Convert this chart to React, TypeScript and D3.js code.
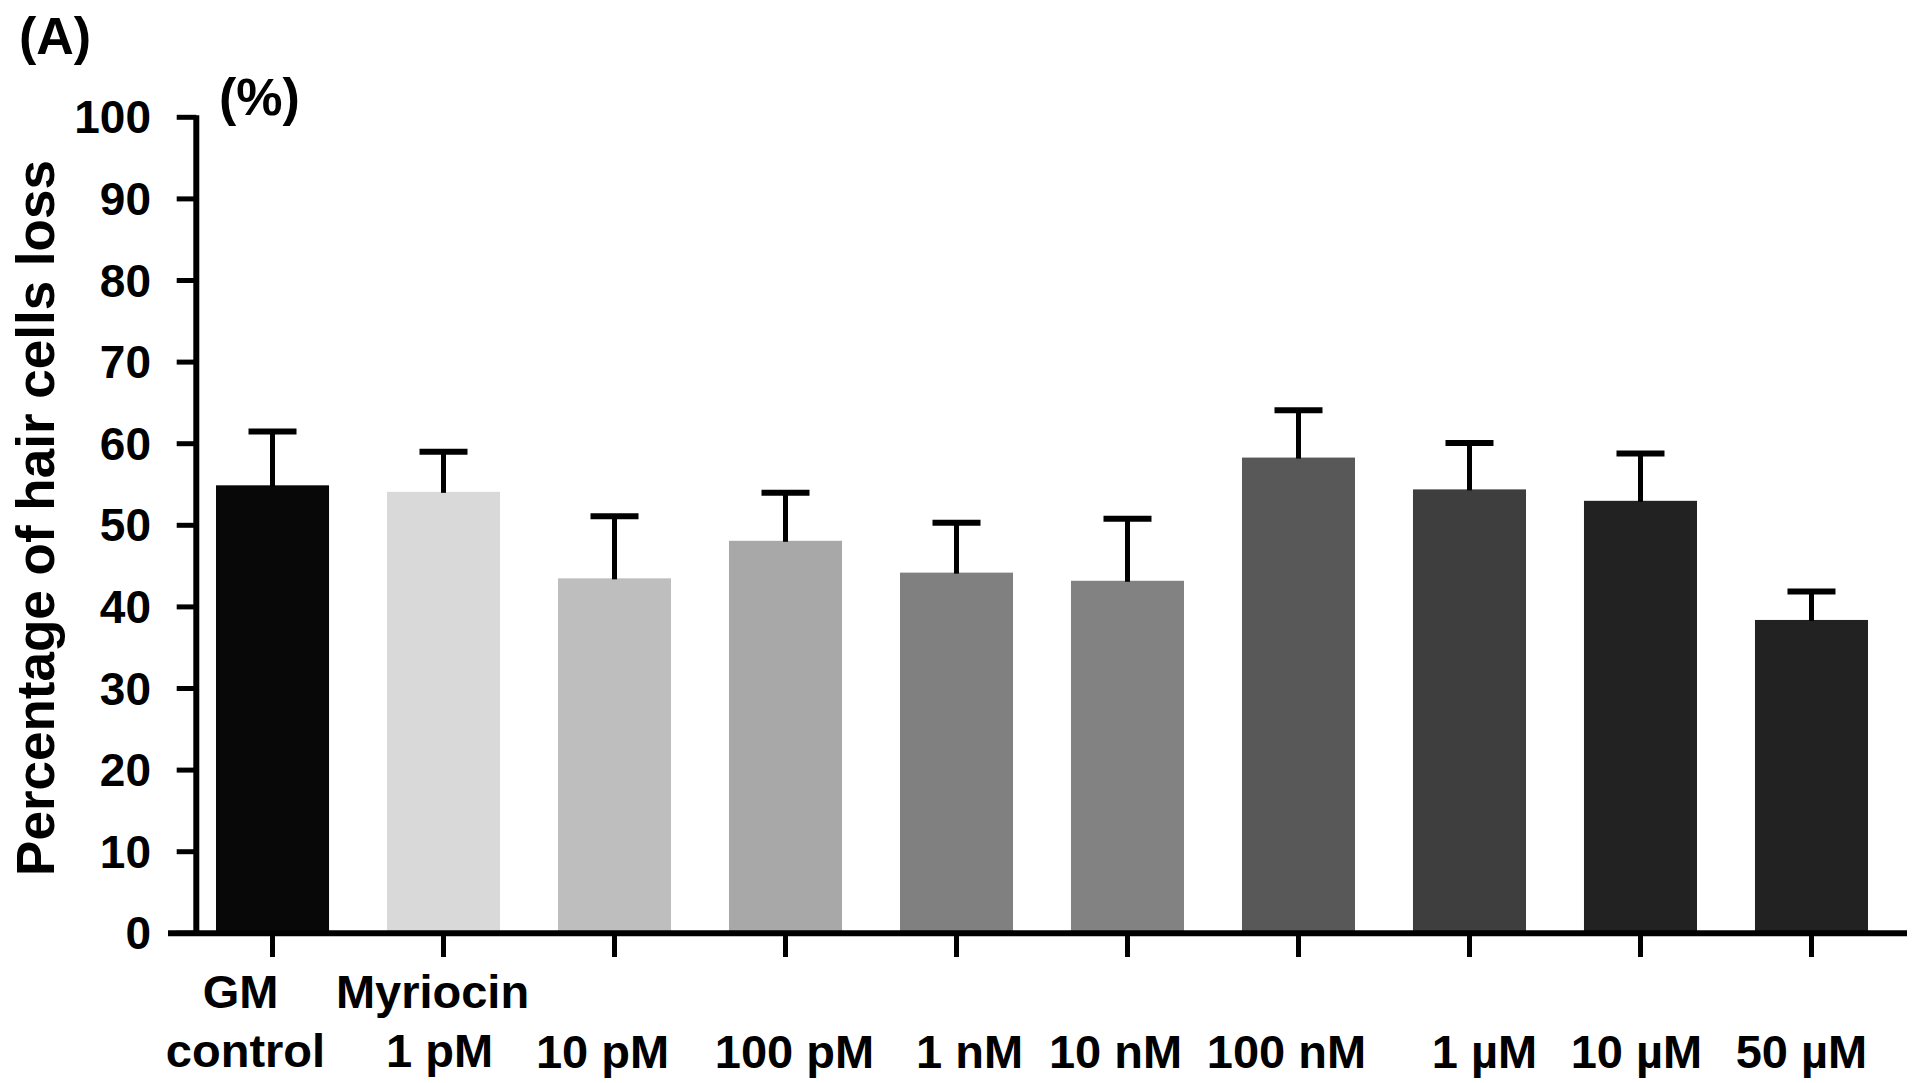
import React from "react";
import * as d3 from "d3";

// ---- data ----
const categories = ["GM control", "Myriocin 1 pM", "10 pM", "100 pM", "1 nM", "10 nM", "100 nM", "1 µM", "10 µM", "50 µM"];
const labelLines = [["GM", "control"], ["Myriocin", "1 pM"], ["10 pM"], ["100 pM"], ["1 nM"], ["10 nM"], ["100 nM"], ["1 µM"], ["10 µM"], ["50 µM"]];
const means = [54.9, 54.1, 43.5, 48.1, 44.2, 43.2, 58.3, 54.4, 53.0, 38.4];
const errors = [6.6, 4.9, 7.6, 5.9, 6.1, 7.6, 5.8, 5.7, 5.8, 3.5];
const barColors = ["#080808", "#d9d9d9", "#bebebe", "#a8a8a8", "#808080", "#828282", "#585858", "#3e3e3e", "#222222", "#222222"];
const yTicks = [0, 10, 20, 30, 40, 50, 60, 70, 80, 90, 100];
const yTitle = "Percentage of hair cells loss";
const panelLabel = "(A)";
const unitLabel = "(%)";

// layout: horizontal nudges of the category label lines relative to the bar centre (px)
const labelNudge = [[-32, -27], [-11, -4], [-12], [9], [13], [-12], [-12], [15], [-4], [-10]];

const W = 1921;
const H = 1083;
const FONT = "'Liberation Sans', Arial, Helvetica, sans-serif";

export default function App() {
  const y = d3.scaleLinear().domain([0, 100]).range([933.3, 117.3]);
  const x = d3.scaleBand<string>().domain(categories).range([216, 1868]).paddingInner(0.339).paddingOuter(0);
  const axisX = 196.3;
  const axisY = y(0);
  const bw = x.bandwidth();
  const capW = 48;

  return (
    <svg width={W} height={H} style={{ position: "absolute", left: 0, top: 0, background: "#fff" }} fontFamily={FONT} fontWeight="bold">
      <rect x={0} y={0} width={W} height={H} fill="#fff" />
      {/* bars */}
      {categories.map((c, i) => (
        <rect key={c} x={x(c)} y={y(means[i])} width={bw} height={axisY - y(means[i])} fill={barColors[i]} />
      ))}
      {/* error bars */}
      {categories.map((c, i) => {
        const cx = (x(c) as number) + bw / 2;
        const top = y(means[i] + errors[i]);
        return (
          <g key={"e" + c} stroke="#000">
            <line x1={cx} x2={cx} y1={y(means[i]) + 1} y2={top} strokeWidth={5} />
            <line x1={cx - capW / 2} x2={cx + capW / 2} y1={top} y2={top} strokeWidth={6} />
          </g>
        );
      })}
      {/* y axis */}
      <line x1={axisX} x2={axisX} y1={y(100) - 2} y2={axisY} stroke="#000" strokeWidth={6} />
      {yTicks.map((t) => (
        <g key={"yt" + t}>
          <line x1={176.7} x2={axisX} y1={y(t)} y2={y(t)} stroke="#000" strokeWidth={5} />
          <text x={151} y={y(t)} dy="0.35em" textAnchor="end" fontSize={46} fill="#000">
            {t}
          </text>
        </g>
      ))}
      {/* x axis */}
      <line x1={168} x2={1907} y1={axisY} y2={axisY} stroke="#000" strokeWidth={6} />
      {categories.map((c, i) => {
        const cx = (x(c) as number) + bw / 2;
        const lines = labelLines[i];
        const nudge = labelNudge[i];
        return (
          <g key={"xt" + c}>
            <line x1={cx} x2={cx} y1={axisY} y2={957} stroke="#000" strokeWidth={5} />
            {lines.length === 2 ? (
              <>
                <text x={cx + nudge[0]} y={1008} textAnchor="middle" fontSize={47} fill="#000">{lines[0]}</text>
                <text x={cx + nudge[1]} y={1067} textAnchor="middle" fontSize={47} fill="#000">{lines[1]}</text>
              </>
            ) : (
              <text x={cx + nudge[0]} y={1068} textAnchor="middle" fontSize={47} fill="#000">{lines[0]}</text>
            )}
          </g>
        );
      })}
      {/* titles */}
      <text transform="translate(54,518) rotate(-90)" textAnchor="middle" fontSize={53} fill="#000">
        {yTitle}
      </text>
      <text x={19} y={54} fontSize={52} fill="#000">{panelLabel}</text>
      <text x={219} y={115} fontSize={52} fill="#000">{unitLabel}</text>
    </svg>
  );
}
